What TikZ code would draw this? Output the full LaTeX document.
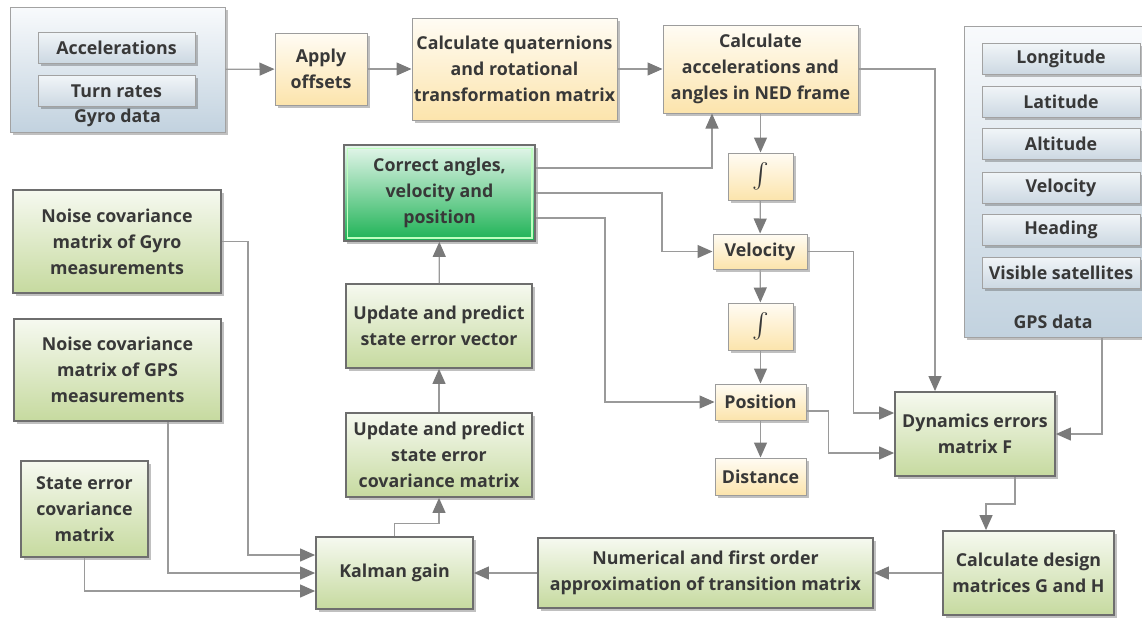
\documentclass[tikz,border=0pt]{standalone}
\usepackage{exscale}
\usepackage{fontspec}
\setmainfont{Open Sans}
\usetikzlibrary{arrows.meta,shadows,calc}
\definecolor{txt}{HTML}{383838}
\definecolor{lineC}{HTML}{9A9A9A}
\definecolor{arrC}{HTML}{7A7A7A}
\definecolor{bordG}{HTML}{6E6E6E}
\definecolor{bordY}{HTML}{9C9C9C}
\definecolor{bordB}{HTML}{A2A2A2}
\definecolor{yTop}{HTML}{FFFCF4}
\definecolor{yBot}{HTML}{FCE4AC}
\definecolor{gTop}{HTML}{F6F9F0}
\definecolor{gBot}{HTML}{C6DA9F}
\definecolor{bTop}{HTML}{F8FAFC}
\definecolor{bBot}{HTML}{C2D2DF}
\definecolor{iTop}{HTML}{F1F5F8}
\definecolor{iBot}{HTML}{CCD8E2}
\definecolor{cTop}{HTML}{E6F6EC}
\definecolor{cMid}{HTML}{6CCF90}
\definecolor{cBot}{HTML}{1CB254}
\tikzset{
  base/.style={draw, inner sep=0pt, align=center, text=txt,
    drop shadow={shadow xshift=2.5pt, shadow yshift=-2.5pt, opacity=0.35, fill=black!70}},
  ybox/.style={base, draw=bordY, line width=1pt, top color=yTop, bottom color=yBot},
  gbox/.style={base, draw=bordG, line width=1.8pt, top color=gTop, bottom color=gBot},
  bbox/.style={base, draw=bordB, line width=1pt, top color=bTop, bottom color=bBot},
  ibox/.style={base, draw=bordB, line width=1pt, top color=iTop, bottom color=iBot,
    minimum width=157pt, minimum height=31pt},
  cbox/.style={base, draw=bordG, line width=1.8pt, top color=cTop, middle color=cMid, bottom color=cBot},
  plain/.style={inner sep=0pt, text=txt, align=center},
  arr/.style={draw=lineC, line width=1.2pt, -{Triangle[length=15pt,width=13pt,color=arrC]}},
  intg/.style={font=\fontsize{24.88}{27}\selectfont}
}
\begin{document}
\begin{tikzpicture}[x=1pt,y=-1pt, font=\fontsize{17.8}{26}\selectfont\bfseries]
\useasboundingbox[fill=white] (0,0) rectangle (1142,619);
% Gyro data group
\node[bbox, minimum width=215pt, minimum height=125pt] (gyro) at (117.5,69.5) {};
\node[ibox] (acc) at (116.5,47.5) {Accelerations};
\node[ibox] (turn) at (116.5,91) {Turn rates};
\node[plain] (gyrolbl) at (117.5,118) {Gyro data};
% top row
\node[ybox, minimum width=92pt, minimum height=72pt] (apply) at (321,69) {Apply\\offsets};
\node[ybox, minimum width=205pt, minimum height=102pt] (quat) at (514.5,69) {Calculate quaternions\\and rotational\\transformation matrix};
\node[ybox, minimum width=195pt, minimum height=88pt] (ned) at (760.5,69) {Calculate\\accelerations and\\angles in NED frame};
% GPS data group
\node[bbox, minimum width=186pt, minimum height=311pt] (gps) at (1057,181.5) {};
\node[ibox, minimum width=158pt] (lon) at (1061,59) {Longitude};
\node[ibox, minimum width=158pt] (lat) at (1061,101.5) {Latitude};
\node[ibox, minimum width=158pt] (alt) at (1061,144) {Altitude};
\node[ibox, minimum width=158pt] (gvel) at (1061,187.5) {Velocity};
\node[ibox, minimum width=158pt] (head) at (1061,230) {Heading};
\node[ibox, minimum width=158pt] (sat) at (1061,272.5) {Visible satellites};
\node[plain] (gpslbl) at (1053,322) {GPS data};
% integration chain
\node[ybox, minimum width=65pt, minimum height=47pt, intg] (int1) at (760.5,176.5) {$\int$};
\node[ybox, minimum width=94pt, minimum height=35pt] (vel) at (760,251.5) {Velocity};
\node[ybox, minimum width=65pt, minimum height=47pt, intg] (int2) at (760.5,326.5) {$\int$};
\node[ybox, minimum width=91pt, minimum height=36pt] (pos) at (760.5,402) {Position};
\node[ybox, minimum width=91pt, minimum height=37pt] (dist) at (760.5,476.5) {Distance};
% Kalman column
\node[cbox, minimum width=191pt, minimum height=96pt] (corr) at (439.5,193) {Correct angles,\\velocity and\\position};
\draw[white!75!green, line width=1.2pt] ([shift={(4pt,4pt)}]corr.south west) rectangle ([shift={(-4pt,-4pt)}]corr.north east);
\node[gbox, minimum width=186pt, minimum height=84pt] (upvec) at (439,326) {Update and predict\\state error vector};
\node[gbox, minimum width=186pt, minimum height=84pt] (upcov) at (439,455) {Update and predict\\state error\\covariance matrix};
\node[gbox, minimum width=157pt, minimum height=72pt] (kal) at (394.5,573) {Kalman gain};
\node[gbox, minimum width=335pt, minimum height=70pt] (num) at (705.5,573) {Numerical and first order\\approximation of transition matrix};
\node[gbox, minimum width=171pt, minimum height=84pt] (des) at (1028.5,573) {Calculate design\\matrices G and H};
\node[gbox, minimum width=160pt, minimum height=84pt] (dyn) at (975,434) {Dynamics errors\\matrix F};
% left inputs
\node[gbox, minimum width=208pt, minimum height=103pt] (ngyro) at (117,241.5) {Noise covariance\\matrix of Gyro\\measurements};
\node[gbox, minimum width=207pt, minimum height=102pt] (ngps) at (117.5,370) {Noise covariance\\matrix of GPS\\measurements};
\node[gbox, minimum width=127pt, minimum height=96pt] (serr) at (84.5,509) {State error\\covariance\\matrix};
% connectors
\draw[arr] (gyro) -- (apply);
\draw[arr] (apply) -- (quat);
\draw[arr] (quat) -- (ned);
\draw[arr] (ned.east) -| ([xshift=-40pt]dyn.north);
\draw[arr] (ned) -- (int1);
\draw[arr] (int1) -- (vel);
\draw[arr] (vel) -- (int2);
\draw[arr] (int2) -- (pos);
\draw[arr] (pos) -- (dist);
\draw[arr] ([yshift=25pt]corr.east) -| ([xshift=-48.5pt]ned.south);
\draw[arr] (corr.east) -- ++(126,0) |- (vel.west);
\draw[arr] ([yshift=-25pt]corr.east) -- ++(69,0) |- (pos.west);
\draw[arr] (vel.east) -- ++(46,0) |- ([yshift=21pt]dyn.west);
\draw[arr] ([yshift=-9pt]pos.east) -- ++(22,0) |- ([yshift=-19pt]dyn.west);
\draw[arr] ([xshift=45pt]gps.south) |- (dyn.east);
\draw[arr] ([xshift=40pt]dyn.south) -- ++(0,27) -| ([xshift=-42.5pt]des.north);
\draw[arr] (des) -- (num);
\draw[arr] (num) -- (kal);
\draw[arr] (kal.north) -- ++(0,-13) -| (upcov.south);
\draw[arr] (upcov) -- (upvec);
\draw[arr] (upvec) -- (corr);
\draw[arr] (ngyro.east) -- ++(26,0) |- ([yshift=18pt]kal.west);
\draw[arr] ([xshift=50.5pt]ngps.south) |- (kal.west);
\draw[arr] (serr.south) |- ([yshift=-18pt]kal.west);
\end{tikzpicture}
\end{document}
